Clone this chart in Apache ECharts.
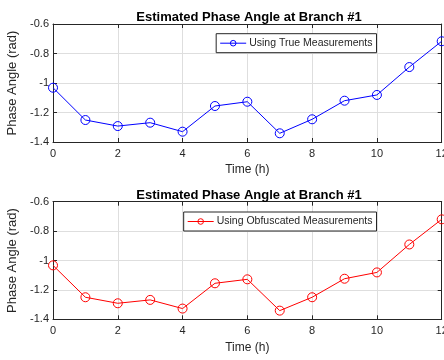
<!DOCTYPE html>
<html><head><meta charset="utf-8">
<script src="https://cdn.jsdelivr.net/npm/echarts@6/dist/echarts.min.js"></script>
<style>html,body{margin:0;padding:0;background:#fff}#c{width:444px;height:360px}</style>
</head><body><div id="c"></div>
<script>
const hours = [0,1,2,3,4,5,6,7,8,9,10,11,12];
const trueVals = [-1.032,-1.251,-1.292,-1.269,-1.330,-1.156,-1.127,-1.341,-1.246,-1.120,-1.081,-0.892,-0.717];
const obfVals  = [-1.033,-1.250,-1.291,-1.268,-1.327,-1.155,-1.128,-1.341,-1.250,-1.124,-1.081,-0.891,-0.720];
const titleText = 'Estimated Phase Angle at Branch #1';
const seriesNames = ['Using True Measurements','Using Obfuscated Measurements'];
const xName = 'Time (h)';
const yName = 'Phase Angle (rad)';

const FONT = 'Liberation Sans, Arial, Helvetica, sans-serif';
const AX = '#262626';
const GRIDC = '#dedede';
const grids = [
  {left:53, right:2.3, top:24, height:118, outerBoundsMode:'none', containLabel:false},
  {left:53, right:2.3, top:201.7, height:117.6, outerBoundsMode:'none', containLabel:false}
];
function xAx(i, pos){
  const main = pos==='bottom';
  return {type:'value', gridIndex:i, position:pos, min:0, max:12, interval:2,
    name: main? xName : '', nameLocation:'middle', nameGap:22,
    nameTextStyle:{fontFamily:FONT,fontSize:12,color:AX},
    axisLine:{show:true,onZero:false,lineStyle:{color:AX,width:1}},
    axisTick:{show:true,inside:true,length:4,lineStyle:{color:AX}},
    axisLabel:{show:main,margin:6,fontFamily:FONT,fontSize:11,color:AX},
    splitLine:{show:main,lineStyle:{color:GRIDC,width:1}}};
}
function yAx(i, pos){
  const main = pos==='left';
  return {type:'value', gridIndex:i, position:pos, min:-1.4, max:-0.6, interval:0.2,
    name: main? yName : '', nameLocation:'middle', nameGap:30, nameRotate:90,
    nameTextStyle:{fontFamily:FONT,fontSize:13,color:AX},
    axisLine:{show:true,onZero:false,lineStyle:{color:AX,width:1}},
    axisTick:{show:true,inside:true,length:4,lineStyle:{color:AX}},
    axisLabel:{show:main,margin:4,fontFamily:FONT,fontSize:11,color:AX,
      formatter:v=>String(Math.round(v*10)/10)},
    splitLine:{show:main,lineStyle:{color:GRIDC,width:1}}};
}
function ser(name, vals, color, idx){
  return {name:name, type:'line', xAxisIndex:idx*2, yAxisIndex:idx*2,
    data: hours.map((h,k)=>[h, vals[k]]),
    symbol:'circle', symbolSize:9, showSymbol:true,
    lineStyle:{color:color,width:1},
    itemStyle:{color:'rgba(255,255,255,0)',borderColor:color,borderWidth:1},
    emphasis:{disabled:true}, animation:false};
}
function leg(name, top){
  return {data:[name], right:67.5, top:top, orient:'vertical', itemWidth:26, itemHeight:7, itemGap:0,
    padding:[4,4,4,3.5], borderColor:'#262626', borderWidth:1, backgroundColor:'#fff',
    itemStyle:{borderWidth:1}, lineStyle:{width:1},
    textStyle:{fontFamily:FONT,fontSize:10.5,color:AX,padding:[0,0,0,-2]}};
}
const chart = echarts.init(document.getElementById('c'), null, {renderer:'canvas'});
chart.setOption({
  backgroundColor:'#fff',
  animation:false,
  title:[
    {text:titleText, left:244, top:6, textAlign:'center', textStyle:{fontFamily:FONT,fontSize:13,fontWeight:'bold',color:'#000'}},
    {text:titleText, left:244, top:184, textAlign:'center', textStyle:{fontFamily:FONT,fontSize:13,fontWeight:'bold',color:'#000'}}
  ],
  legend:[leg(seriesNames[0], 33.7), leg(seriesNames[1], 212)],
  grid: grids,
  xAxis:[xAx(0,'bottom'), xAx(0,'top'), xAx(1,'bottom'), xAx(1,'top')],
  yAxis:[yAx(0,'left'), yAx(0,'right'), yAx(1,'left'), yAx(1,'right')],
  series:[ser(seriesNames[0], trueVals, '#0000ff', 0), ser(seriesNames[1], obfVals, '#ff0000', 1)]
});
</script></body></html>
